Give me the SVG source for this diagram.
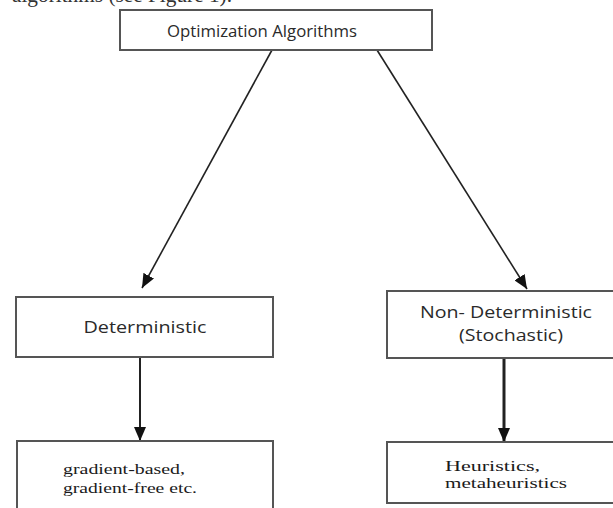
<svg xmlns="http://www.w3.org/2000/svg" width="613" height="508" viewBox="0 0 613 508">
<style>
.box{fill:#fff;stroke:#555;stroke-width:2}
.sans{font-family:"Open Sans","Liberation Sans",sans-serif;font-size:16px;fill:#2a2a2a}
.serif{font-family:"Liberation Serif","DejaVu Serif",serif;font-size:15.5px;fill:#1a1a1a}
.edge{stroke:#222;fill:none}
</style>
<defs>
<marker id="ah" markerUnits="userSpaceOnUse" markerWidth="14" markerHeight="12" viewBox="0 0 14 12" refX="14" refY="6" orient="auto">
<path d="M0,0 L14,6 L0,12 Z" fill="#111"/>
</marker>
</defs>
<rect width="613" height="508" fill="#fff"/>
<text x="12" y="2" font-family="Liberation Serif, serif" font-size="20" fill="#333" textLength="220" lengthAdjust="spacingAndGlyphs">algorithms (see Figure 1).</text>
<g id="connectors">
<line class="edge" x1="272" y1="50" x2="142" y2="288" stroke-width="1.6" marker-end="url(#ah)"/>
<line class="edge" x1="377" y1="50" x2="527" y2="289" stroke-width="1.6" marker-end="url(#ah)"/>
<line class="edge" x1="140" y1="357" x2="140" y2="441" stroke-width="2" marker-end="url(#ah)"/>
<line class="edge" x1="504" y1="358" x2="504" y2="442" stroke-width="3" marker-end="url(#ah)"/>
</g>
<g id="root">
<rect class="box" x="120" y="10" width="312" height="40"/>
<text class="sans" x="262" y="37" text-anchor="middle" textLength="190" lengthAdjust="spacingAndGlyphs">Optimization Algorithms</text>
</g>
<g id="deterministic">
<rect class="box" x="16" y="297" width="257" height="60"/>
<text class="sans" x="145" y="333" text-anchor="middle" textLength="123" lengthAdjust="spacingAndGlyphs">Deterministic</text>
</g>
<g id="nondeterministic">
<rect class="box" x="387" y="291" width="240" height="67"/>
<text class="sans" x="506" y="318" text-anchor="middle" textLength="172" lengthAdjust="spacingAndGlyphs">Non- Deterministic</text>
<text class="sans" x="511" y="341" text-anchor="middle" textLength="104" lengthAdjust="spacingAndGlyphs">(Stochastic)</text>
</g>
<g id="gradient">
<rect class="box" x="17" y="441" width="256" height="80"/>
<text class="serif" x="63" y="474" textLength="122" lengthAdjust="spacingAndGlyphs">gradient-based,</text>
<text class="serif" x="63" y="493" textLength="134" lengthAdjust="spacingAndGlyphs">gradient-free etc.</text>
</g>
<g id="heuristics">
<rect class="box" x="387" y="442" width="240" height="61"/>
<text class="serif" x="445" y="471" textLength="95" lengthAdjust="spacingAndGlyphs">Heuristics,</text>
<text class="serif" x="445" y="488" textLength="122" lengthAdjust="spacingAndGlyphs">metaheuristics</text>
</g>
</svg>
